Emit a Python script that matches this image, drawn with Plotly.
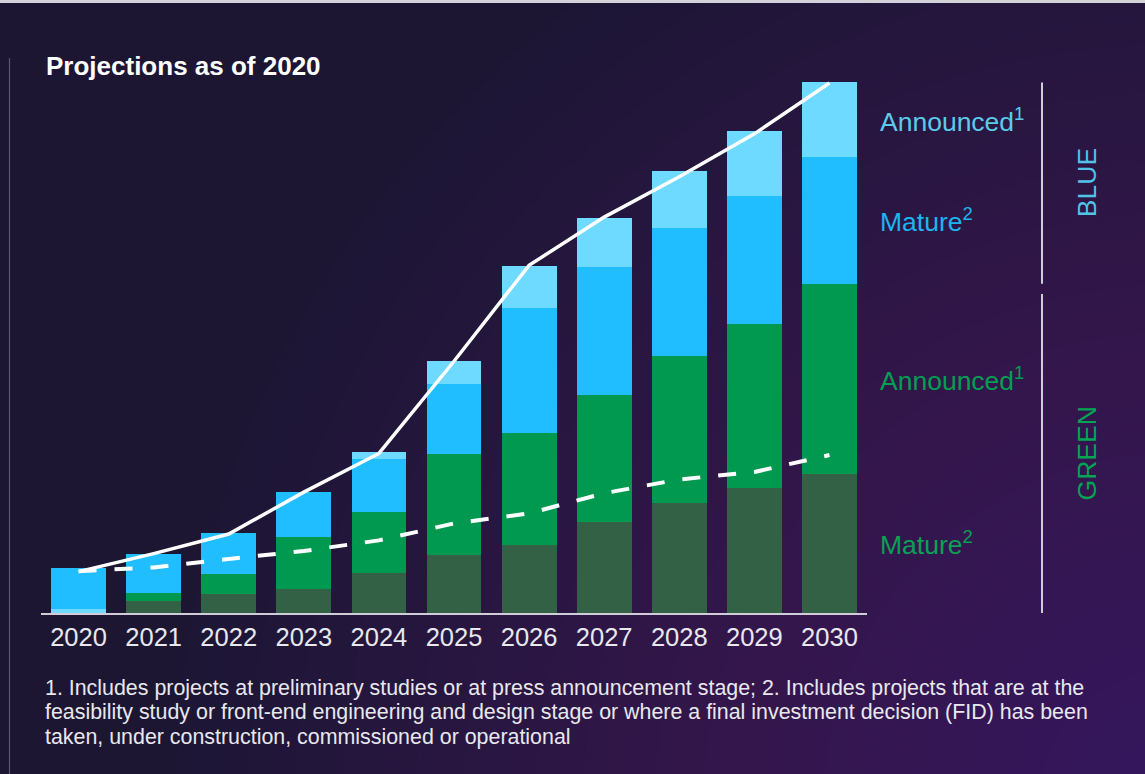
import plotly.graph_objects as go

# ---------------- data (arbitrary units) ----------------
years = ["2020", "2021", "2022", "2023", "2024", "2025", "2026", "2027", "2028", "2029", "2030"]
green_mature = [0.0, 2.2, 3.6, 4.5, 7.5, 10.9, 12.8, 17.1, 20.8, 23.5, 26.3]
green_announced = [0.0, 1.5, 3.7, 9.9, 11.6, 19.1, 21.1, 24.1, 27.7, 31.1, 35.8]
blue_mature = [7.7, 7.5, 7.8, 8.5, 9.9, 13.2, 23.7, 24.1, 24.1, 24.0, 24.0]
blue_announced = [0.0, 0.0, 0.0, 0.0, 1.3, 4.3, 7.9, 9.2, 10.8, 12.3, 14.0]
blue_announced_base = [0.85, 0, 0, 0, 0, 0, 0, 0, 0, 0, 0]
total_line = [7.8, 11.2, 14.9, 22.8, 30.1, 47.5, 65.6, 74.7, 82.3, 90.4, 100.0]
dashed_line = [7.9, 8.6, 10.2, 11.7, 13.7, 16.9, 18.8, 22.6, 25.2, 26.6, 29.8]

title_text = "Projections as of 2020"
footnote_lines = [
    "1. Includes projects at preliminary studies or at press announcement stage; 2. Includes projects that are at the",
    "feasibility study or front-end engineering and design stage or where a final investment decision (FID) has been",
    "taken, under construction, commissioned or operational",
]

# ---------------- styling ----------------
C_DARK = "#326146"
C_GREEN = "#00994f"
C_BLUE = "#20beff"
C_LIGHT = "#6edaff"
BG = "#1c1633"
FONT = "Liberation Sans, Arial, sans-serif"

W, H = 1145, 774
ML, MR, MT, MB = 41, 278, 73, 161
PW, PH = W - ML - MR, H - MT - MB
YMAX = PH / 5.3


def px_x(p):
    return (p - ML) / PW


def px_y(p):
    return (H - MB - p) / PH


fig = go.Figure()

for name, vals, col in [
    ("Blue announced", blue_announced_base, C_LIGHT),
    ("Green mature", green_mature, C_DARK),
    ("Green announced", green_announced, C_GREEN),
    ("Blue mature", blue_mature, C_BLUE),
    ("Blue announced", blue_announced, C_LIGHT),
]:
    fig.add_trace(go.Bar(x=years, y=vals, name=name, marker=dict(color=col, line=dict(width=0)),
                         showlegend=False, hoverinfo="skip"))

fig.add_trace(go.Scatter(x=years, y=total_line, mode="lines",
                         line=dict(color="white", width=3.5), showlegend=False))
fig.add_trace(go.Scatter(x=years, y=dashed_line, mode="lines",
                         line=dict(color="white", width=4, dash="18px,18px"), showlegend=False))

shapes = []
# smooth background glow towards bottom-right
n_rings = 40
for i in range(n_rings):
    r = 1000 - i * 24
    shapes.append(dict(type="circle", layer="below", xref="paper", yref="paper",
                       xsizemode="pixel", ysizemode="pixel",
                       xanchor=px_x(W + 30), yanchor=px_y(H + 30),
                       x0=-r, x1=r, y0=-r, y1=r,
                       fillcolor="rgba(80,34,132,0.019)", line=dict(width=0)))
# top border strip
shapes.append(dict(type="rect", layer="above", xref="paper", yref="paper",
                   x0=px_x(0), x1=px_x(W), y0=px_y(3), y1=px_y(-2),
                   fillcolor="#d2d2d8", line=dict(width=0)))
# faint left rule
shapes.append(dict(type="line", layer="below", xref="paper", yref="paper",
                   x0=px_x(9.5), x1=px_x(9.5), y0=px_y(58), y1=px_y(H + 5),
                   line=dict(color="#5a5672", width=1.2)))
# right brackets
tot2030 = green_mature[-1] + green_announced[-1] + blue_mature[-1] + blue_announced[-1]
green2030 = green_mature[-1] + green_announced[-1]
bx = px_x(1042)
shapes.append(dict(type="line", xref="paper", yref="y", x0=bx, x1=bx, y0=green2030, y1=tot2030,
                   line=dict(color="#cfcdd8", width=2)))
shapes.append(dict(type="line", xref="paper", yref="y", x0=bx, x1=bx, y0=0, y1=green2030 - 1.9,
                   line=dict(color="#cfcdd8", width=2)))

lx = px_x(878)
LS = 26.5
annotations = [
    dict(text=title_text, xref="paper", yref="paper", x=px_x(44), y=px_y(66),
         xanchor="left", yanchor="middle", showarrow=False,
         font=dict(family=FONT, size=26, color="white", weight="bold")),
    dict(text="Announced<sup>1</sup>", xref="paper", yref="y", x=lx,
         y=tot2030 - blue_announced[-1] / 2, xanchor="left", yanchor="middle", showarrow=False,
         font=dict(family=FONT, size=LS, color="#5ccbea")),
    dict(text="Mature<sup>2</sup>", xref="paper", yref="y", x=lx,
         y=green2030 + blue_mature[-1] / 2, xanchor="left", yanchor="middle", showarrow=False,
         font=dict(family=FONT, size=LS, color="#1db4f0")),
    dict(text="Announced<sup>1</sup>", xref="paper", yref="y", x=lx,
         y=green_mature[-1] + green_announced[-1] / 2, xanchor="left", yanchor="middle", showarrow=False,
         font=dict(family=FONT, size=LS, color="#009f52")),
    dict(text="Mature<sup>2</sup>", xref="paper", yref="y", x=lx,
         y=green_mature[-1] / 2, xanchor="left", yanchor="middle", showarrow=False,
         font=dict(family=FONT, size=LS, color="#0aa055")),
    dict(text="BLUE", xref="paper", yref="y", x=px_x(1087), y=(green2030 + tot2030) / 2,
         xanchor="center", yanchor="middle", textangle=-90, showarrow=False,
         font=dict(family=FONT, size=LS, color="#4fc4e8")),
    dict(text="GREEN", xref="paper", yref="y", x=px_x(1087), y=(green2030 - 1.9) / 2,
         xanchor="center", yanchor="middle", textangle=-90, showarrow=False,
         font=dict(family=FONT, size=LS, color="#00a552")),
]
for line_text, ymid in zip(footnote_lines, [688, 712, 737]):
    annotations.append(dict(text=line_text, xref="paper", yref="paper", x=px_x(43), y=px_y(ymid),
                            xanchor="left", yanchor="middle", align="left", showarrow=False,
                            font=dict(family=FONT, size=21.4, color="#e8e8ee")))

fig.update_layout(
    width=W, height=H,
    margin=dict(l=ML, r=MR, t=MT, b=MB, pad=0),
    paper_bgcolor=BG, plot_bgcolor="rgba(0,0,0,0)",
    barmode="stack", bargap=0.27,
    shapes=shapes, annotations=annotations,
    font=dict(family=FONT),
    xaxis=dict(type="category", showgrid=False, zeroline=False, showline=True,
               linecolor="#cfcdd8", linewidth=2, ticks="",
               tickfont=dict(family=FONT, size=25.5, color="#e8e8ee")),
    yaxis=dict(range=[0, YMAX], showgrid=False, zeroline=False, showline=False,
               showticklabels=False, ticks=""),
)

fig.write_html("out.html")
